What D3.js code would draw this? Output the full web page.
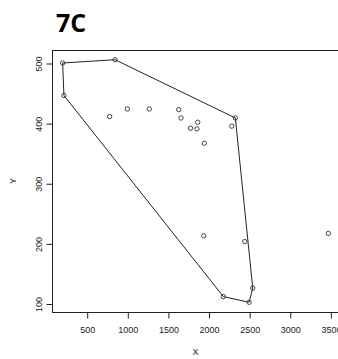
<!DOCTYPE html>
<html>
<head>
<meta charset="utf-8">
<script src="https://cdn.jsdelivr.net/npm/d3@7"></script>
<style>
  html, body { margin: 0; padding: 0; background: #fff; }
  svg { display: block; }
</style>
</head>
<body>
<svg id="chart" width="338" height="359"></svg>
<script>
// Observations enclosed by the convex hull
const xVals = [204, 849, 220, 783, 1000, 1271, 1633, 1661, 1867, 1778, 1857, 1948, 2330, 2286, 1941, 2446, 2544, 2499, 2182];
const yVals = [500, 505.5, 446, 411, 423.6, 423.6, 422.5, 408.6, 401.5, 391.5, 390.5, 366.6, 408.6, 395, 212.6, 203, 125.7, 102, 111.5];
// Observation left outside the hull
const outlierX = [3475];
const outlierY = [216.5];

const xTicks = [500, 1000, 1500, 2000, 2500, 3000, 3500];
const yTicks = [100, 200, 300, 400, 500];
const title = "7C";
const xLabel = "X";
const yLabel = "Y";

const svg = d3.select("#chart");
const plot = { left: 52, right: 339, top: 50, bottom: 312 };

// Axis ranges padded by 4% on each side
const allX = xVals.concat(outlierX), allY = yVals.concat(outlierY);
function padded(vals) {
  const [lo, hi] = d3.extent(vals);
  const d = (hi - lo) * 0.04;
  return [lo - d, hi + d];
}
const x = d3.scaleLinear().domain(padded(allX)).range([plot.left, plot.right]);
const y = d3.scaleLinear().domain(padded(allY)).range([plot.bottom, plot.top]);

const ink = "#222";
const font = "'Liberation Sans', Arial, sans-serif";

// Title
svg.append("text")
  .attr("x", 56).attr("y", 32)
  .attr("font-family", "'Open Sans', 'Liberation Sans', sans-serif")
  .attr("font-weight", "bold")
  .attr("font-size", 25)
  .attr("fill", "#000")
  .text(title);

// Plot frame
svg.append("rect")
  .attr("x", plot.left + 0.5).attr("y", plot.top + 0.5)
  .attr("width", plot.right - plot.left).attr("height", plot.bottom - plot.top)
  .attr("fill", "none").attr("stroke", ink).attr("stroke-width", 1);

// Bottom axis
const xAxis = d3.axisBottom(x).tickValues(xTicks).tickSize(6).tickPadding(8).tickFormat(d3.format("d"));
const gx = svg.append("g").attr("transform", `translate(0.5,${plot.bottom + 0.5})`).call(xAxis);
gx.select(".domain").remove();
gx.selectAll("line").attr("stroke", ink);
gx.selectAll("text").attr("font-family", font).attr("font-size", 9).attr("fill", ink);

// Left axis with rotated labels
const yAxis = d3.axisLeft(y).tickValues(yTicks).tickSize(6).tickFormat(d3.format("d"));
const gy = svg.append("g").attr("transform", `translate(${plot.left + 0.5},0.5)`).call(yAxis);
gy.select(".domain").remove();
gy.selectAll("line").attr("stroke", ink);
gy.selectAll("text")
  .attr("font-family", font).attr("font-size", 9).attr("fill", ink)
  .attr("x", null).attr("dy", null)
  .attr("text-anchor", "middle")
  .attr("transform", "translate(-11,0) rotate(-90)");

// Axis titles
svg.append("text")
  .attr("x", (plot.left + plot.right) / 2).attr("y", 355)
  .attr("text-anchor", "middle")
  .attr("font-family", font).attr("font-size", 9).attr("fill", ink)
  .text(xLabel);
svg.append("text")
  .attr("transform", `translate(16,${(plot.top + plot.bottom) / 2}) rotate(-90)`)
  .attr("text-anchor", "middle")
  .attr("font-family", font).attr("font-size", 9).attr("fill", ink)
  .text(yLabel);

// Convex hull of the enclosed observations
const pts = xVals.map((v, i) => [v, yVals[i]]);
const hull = d3.polygonHull(pts);
svg.append("path")
  .attr("d", d3.line().x(d => x(d[0])).y(d => y(d[1])).curve(d3.curveLinearClosed)(hull))
  .attr("fill", "none").attr("stroke", ink).attr("stroke-width", 1);

// Points
const allPts = pts.concat(outlierX.map((v, i) => [v, outlierY[i]]));
svg.append("g").selectAll("circle")
  .data(allPts)
  .join("circle")
  .attr("cx", d => x(d[0])).attr("cy", d => y(d[1]))
  .attr("r", 2.2)
  .attr("fill", "none").attr("stroke", "#333").attr("stroke-width", 0.9);
</script>
</body>
</html>
